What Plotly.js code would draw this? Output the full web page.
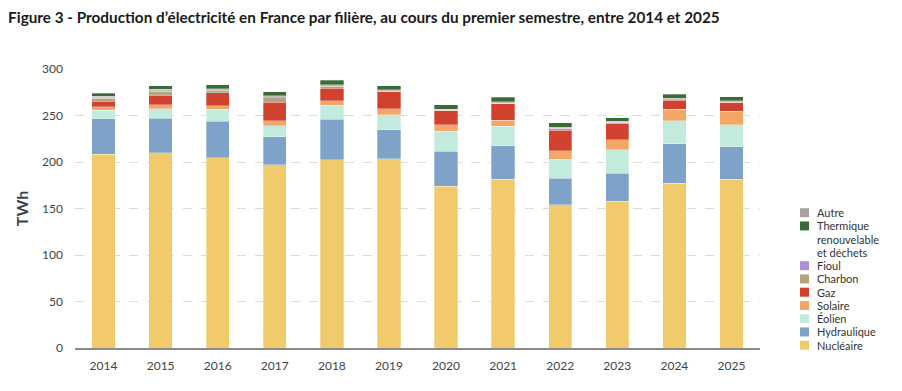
<!DOCTYPE html>
<html>
<head>
<meta charset="utf-8">
<script src="https://cdn.plot.ly/plotly-3.0.1.min.js"></script>
<style>
  html, body { margin: 0; padding: 0; background: #fff; }
  #chart { width: 902px; height: 391px; }
</style>
</head>
<body>
<div id="chart"></div>
<script>
// ---- Data (TWh, premier semestre) ----
const years = ["2014","2015","2016","2017","2018","2019","2020","2021","2022","2023","2024","2025"];
const nucleaire   = [208.4, 209.9, 204.8, 197.0, 202.3, 203.4, 173.7, 181.2, 154.0, 157.9, 177.2, 181.2];
const hydraulique = [38.0, 37.2, 39.1, 30.4, 43.7, 31.2, 37.9, 36.5, 28.6, 30.1, 42.3, 35.2];
const eolien      = [9.3, 10.4, 12.9, 11.5, 14.8, 16.2, 21.5, 20.5, 20.2, 25.1, 25.1, 23.4];
const solaire     = [3.7, 4.3, 3.6, 5.4, 5.3, 6.3, 6.9, 6.6, 9.3, 10.8, 12.2, 15.0];
const gaz         = [6.0, 10.0, 14.0, 20.0, 13.3, 18.3, 15.4, 17.6, 21.8, 17.5, 9.6, 9.2];
const charbon     = [3.4, 4.2, 2.6, 4.8, 2.0, 0.9, 0.3, 1.0, 1.6, 0.6, 0.3, 0.2];
const fioul       = [0.6, 0.7, 0.6, 0.8, 0.6, 0.5, 0.4, 0.5, 0.7, 0.7, 0.5, 0.4];
const autre       = [1.4, 1.6, 1.4, 1.6, 1.3, 1.1, 0.7, 1.0, 1.2, 1.3, 1.4, 1.2];
const thermique   = [3.2, 3.6, 4.0, 4.0, 4.6, 4.3, 4.7, 4.7, 4.7, 3.6, 4.3, 4.6];

const yTicks = [0, 50, 100, 150, 200, 250, 300];

// stacking order (bottom -> top)
const series = [
  {name: "Nucléaire", y: nucleaire, color: "#F1CB6B"},
  {name: "Hydraulique", y: hydraulique, color: "#7EA2C8"},
  {name: "Éolien", y: eolien, color: "#C2EBDE"},
  {name: "Solaire", y: solaire, color: "#F2A766"},
  {name: "Gaz", y: gaz, color: "#D1422E"},
  {name: "Charbon", y: charbon, color: "#B3A47F"},
  {name: "Fioul", y: fioul, color: "#AC90D6"},
  {name: "Autre", y: autre, color: "#A9A09F"},
  {name: "Thermique renouvelable et déchets", y: thermique, color: "#3A6A35"}
];
// legend order (top -> bottom) and wrapped labels
const legendOrder = ["Autre", "Thermique renouvelable et déchets", "Fioul", "Charbon", "Gaz", "Solaire", "Éolien", "Hydraulique", "Nucléaire"];
const legendLabels = {"Thermique renouvelable et déchets": ["Thermique", "renouvelable", "et déchets"]};

const traces = series.map(s => ({
  type: "bar",
  name: s.name,
  x: years,
  y: s.y,
  marker: {color: s.color, line: {color: "rgba(255,255,255,0.6)", width: 0.5}},
  hovertemplate: "%{x} – " + s.name + " : %{y} TWh<extra></extra>"
}));

// ---- layout geometry (pixels) ----
const W = 902, H = 391;
const L = 75, R = 760, T = 69, B = 348;
const px2x = p => (p - L) / (R - L);
const px2y = p => (B - p) / (B - T);

const annotations = [];
const shapes = [];
let line = 0;
const lineY0 = 212.7, lineStep = 13.25;
legendOrder.forEach(name => {
  const s = series.find(d => d.name === name);
  const lines = legendLabels[name] || [name];
  const cy = lineY0 + line * lineStep;
  shapes.push({
    type: "rect", xref: "paper", yref: "paper",
    x0: px2x(800), x1: px2x(809), y0: px2y(cy + 4.5), y1: px2y(cy - 4.5),
    fillcolor: s.color, line: {width: 0}
  });
  lines.forEach((t, i) => {
    annotations.push({
      xref: "paper", yref: "paper",
      x: px2x(815), y: px2y(lineY0 + (line + i) * lineStep),
      xanchor: "left", yanchor: "middle",
      text: t, showarrow: false,
      font: {family: "Lato, 'Open Sans', sans-serif", size: 11, color: "#333"}
    });
  });
  line += lines.length;
});

const layout = {
  width: W, height: H,
  margin: {l: L, r: W - R, t: T, b: H - B},
  paper_bgcolor: "#fff",
  plot_bgcolor: "#fff",
  title: {
    text: "<b>Figure 3 - Production d’électricité en France par filière, au cours du premier semestre, entre 2014 et 2025</b>",
    x: 0.009, xanchor: "left", y: 0.955, yanchor: "middle",
    font: {family: "Lato, sans-serif", size: 15.3, color: "#1a1a1a"}
  },
  barmode: "stack",
  bargap: 0.59,
  showlegend: false,
  xaxis: {
    type: "category",
    tickfont: {family: "Lato, sans-serif", size: 12, color: "#444"},
    showline: true, linecolor: "#8a8a8a", linewidth: 1.5,
    showgrid: false, ticks: "", ticklabelstandoff: 6,
    fixedrange: true
  },
  yaxis: {
    range: [0, 300],
    tickvals: yTicks,
    tickfont: {family: "Lato, sans-serif", size: 12, color: "#444"},
    showgrid: true, gridcolor: "#dcdcdc", griddash: "dash", gridwidth: 1,
    zeroline: false, showline: false, ticks: "",
    ticklabelstandoff: 11,
    title: {text: "<b>TWh</b>", font: {family: "Lato, sans-serif", size: 16, color: "#3b4150"}, standoff: 9},
    fixedrange: true
  },
  annotations: annotations,
  shapes: shapes,
  font: {family: "Lato, sans-serif"}
};

Plotly.newPlot("chart", traces, layout, {displayModeBar: false, staticPlot: true});
</script>
</body>
</html>
